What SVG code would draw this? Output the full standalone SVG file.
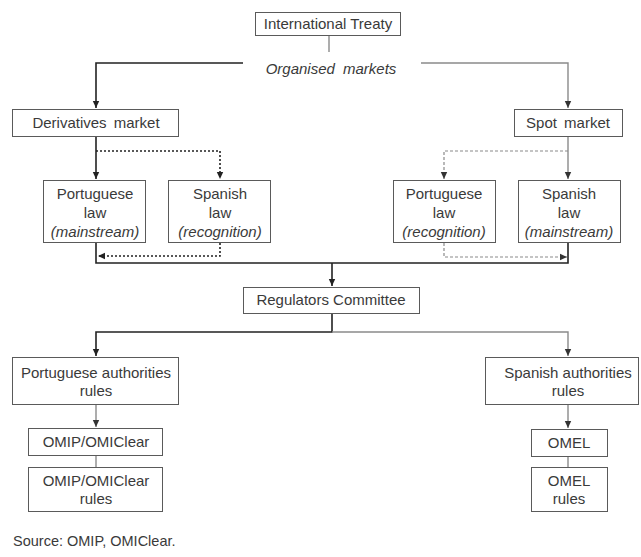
<svg xmlns="http://www.w3.org/2000/svg" width="641" height="557" viewBox="0 0 641 557">
<style>
.box{fill:#fff;stroke:#5a5a5a;stroke-width:1}
.t{font-family:"Liberation Sans",Arial,sans-serif;font-size:15px;fill:#3a3a3a;text-anchor:middle}
.i{font-style:italic}
.dk{fill:none;stroke:#222;stroke-width:1.6}
.gr{fill:none;stroke:#8a8a8a;stroke-width:1.4}
.dkd{fill:none;stroke:#222;stroke-width:1.6;stroke-dasharray:2,2}
.grd{fill:none;stroke:#8a8a8a;stroke-width:1.2;stroke-dasharray:3,2}
</style>
<defs>
<marker id="ad" markerUnits="userSpaceOnUse" markerWidth="8" markerHeight="8" refX="7" refY="4" orient="auto"><path d="M0,0.8 L7,4 L0,7.2 Z" fill="#222"/></marker>
<marker id="ag" markerUnits="userSpaceOnUse" markerWidth="8" markerHeight="8" refX="7" refY="4" orient="auto"><path d="M0,0.8 L7,4 L0,7.2 Z" fill="#333"/></marker>
</defs>
<g id="connectors">
<line class="gr" x1="329" y1="35" x2="329" y2="52"/>
<path class="dk" d="M243,63 H96 V108" marker-end="url(#ad)"/>
<path class="gr" d="M421,63 H568 V108" marker-end="url(#ag)"/>
<path class="dk" d="M96,137 V179" marker-end="url(#ad)"/>
<path class="dkd" d="M96,151 H220 V179" marker-end="url(#ad)"/>
<path class="gr" d="M568,136 V179" marker-end="url(#ag)"/>
<path class="grd" d="M568,151 H444 V179" marker-end="url(#ag)"/>
<path class="dk" d="M96,243 V263 H568 V243"/>
<path class="dkd" d="M220,243 V256 H98" marker-end="url(#ad)"/>
<path class="grd" d="M444,243 V257 H567" marker-end="url(#ag)"/>
<path class="dk" d="M332,263 V286" marker-end="url(#ad)"/>
<path class="dk" d="M332,313 V332 H96 V356" marker-end="url(#ad)"/>
<path class="gr" d="M332,332 H568 V356" marker-end="url(#ag)"/>
<path class="gr" d="M96,404 V427" marker-end="url(#ag)"/>
<line class="gr" x1="96" y1="455" x2="96" y2="467"/>
<path class="gr" d="M568,404 V428" marker-end="url(#ag)"/>
<line class="gr" x1="568" y1="456" x2="568" y2="467"/>
</g>
<g id="treaty"><rect class="box" x="255.5" y="12.5" width="145" height="23"/><text class="t" x="328" y="29">International Treaty</text></g>
<g id="organised"><text class="t i" x="331" y="74" word-spacing="4">Organised markets</text></g>
<g id="derivatives"><rect class="box" x="12.5" y="109.5" width="166" height="27"/><text class="t" x="96" y="128" word-spacing="3">Derivatives market</text></g>
<g id="spot"><rect class="box" x="514.5" y="109.5" width="108" height="27"/><text class="t" x="568" y="128" word-spacing="3">Spot market</text></g>
<g id="pt-law-left"><rect class="box" x="43.5" y="180.5" width="102" height="62"/><text class="t" x="95" y="199">Portuguese</text><text class="t" x="95" y="218">law</text><text class="t i" x="95" y="237">(mainstream)</text></g>
<g id="es-law-left"><rect class="box" x="168.5" y="180.5" width="102" height="62"/><text class="t" x="220" y="199">Spanish</text><text class="t" x="220" y="218">law</text><text class="t i" x="220" y="237">(recognition)</text></g>
<g id="pt-law-right"><rect class="box" x="393.5" y="180.5" width="102" height="62"/><text class="t" x="444" y="199">Portuguese</text><text class="t" x="444" y="218">law</text><text class="t i" x="444" y="237">(recognition)</text></g>
<g id="es-law-right"><rect class="box" x="518.5" y="180.5" width="102" height="62"/><text class="t" x="569" y="199">Spanish</text><text class="t" x="569" y="218">law</text><text class="t i" x="569" y="237">(mainstream)</text></g>
<g id="regulators"><rect class="box" x="243.5" y="287.5" width="176" height="26"/><text class="t" x="331" y="305">Regulators Committee</text></g>
<g id="pt-auth"><rect class="box" x="12.5" y="357.5" width="166" height="47"/><text class="t" x="96" y="378">Portuguese authorities</text><text class="t" x="96" y="396">rules</text></g>
<g id="es-auth"><rect class="box" x="485.5" y="357.5" width="153" height="47"/><text class="t" x="568" y="378">Spanish authorities</text><text class="t" x="568" y="396">rules</text></g>
<g id="omip"><rect class="box" x="28.5" y="428.5" width="134" height="27"/><text class="t" x="96" y="447">OMIP/OMIClear</text></g>
<g id="omip-rules"><rect class="box" x="28.5" y="467.5" width="134" height="44"/><text class="t" x="96" y="486">OMIP/OMIClear</text><text class="t" x="96" y="504">rules</text></g>
<g id="omel"><rect class="box" x="531.5" y="429.5" width="76" height="27"/><text class="t" x="569" y="448">OMEL</text></g>
<g id="omel-rules"><rect class="box" x="531.5" y="467.5" width="76" height="44"/><text class="t" x="569" y="486">OMEL</text><text class="t" x="569" y="504">rules</text></g>
<text class="t" x="13" y="546" style="text-anchor:start;font-size:14.5px">Source: OMIP, OMIClear.</text>
</svg>
